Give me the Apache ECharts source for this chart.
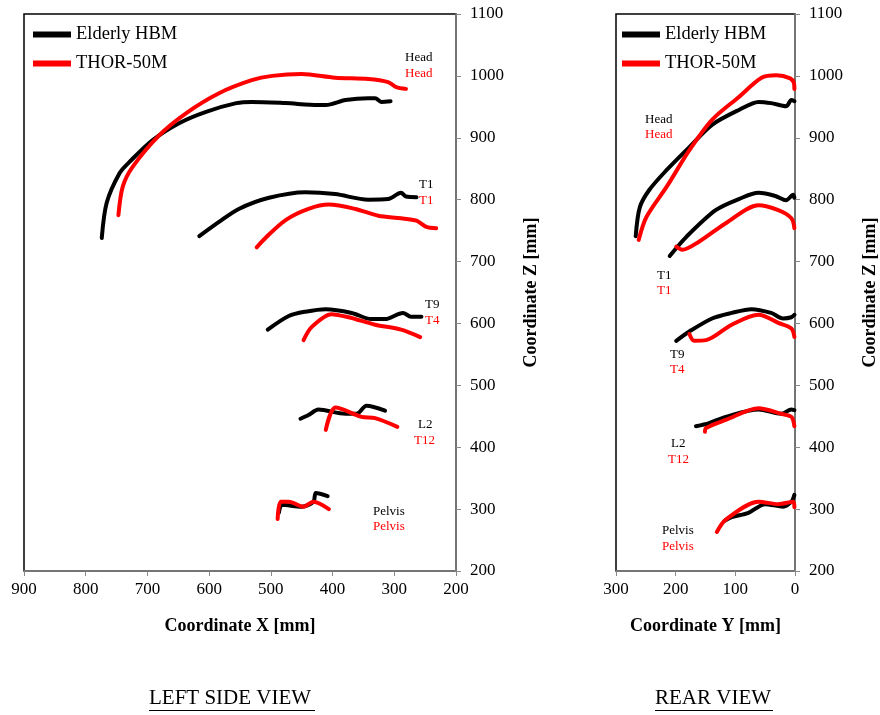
<!DOCTYPE html>
<html>
<head>
<meta charset="utf-8">
<script src="https://cdn.jsdelivr.net/npm/echarts@6/dist/echarts.min.js"></script>
<style>
  html, body { margin: 0; padding: 0; background: #fff; }
  #main { width: 880px; height: 715px; }
</style>
</head>
<body>
<div id="main"></div>
<script>
// side view: [X, Z] in mm
var sideHeadHbm = [[774,738],[766,795],[745,843],[729,861],[692,896],[648,924],[605,942],[556,956],[531,958],[476,956],[423,953],[411,953],[379,961],[342,964],[331,964],[321,958],[306,959]];
var sideHeadThor = [[747,775],[740,821],[724,853],[681,904],[637,940],[584,972],[531,993],[498,1000],[450,1003],[396,997],[342,995],[310,990],[297,982],[281,979]];
var sideT1Hbm = [[616,741],[584,764],[552,785],[503,803],[444,812],[396,809],[342,800],[310,801],[289,811],[281,805],[264,804]];
var sideT1Thor = [[523,723],[508,739],[476,767],[439,785],[406,792],[363,785],[326,774],[289,770],[264,766],[248,756],[232,754]];
var sideT9Hbm = [[505,590],[471,612],[444,619],[411,623],[369,617],[337,607],[315,607],[286,617],[273,611],[256,611]];
var sideT4Thor = [[447,573],[434,594],[402,615],[374,610],[331,598],[289,590],[258,578]];
var sideL2Hbm = [[452,446],[439,452],[423,461],[379,454],[361,454],[345,467],[315,459]];
var sideT12Thor = [[411,428],[395,464],[353,449],[331,447],[295,433]];
var sidePelvisHbm = [[487,294],[482,307],[450,304],[431,312],[427,326],[408,321]];
var sidePelvisThor = [[489,284],[484,312],[471,312],[447,304],[431,312],[406,300]];

// rear view: [Y, Z] in mm
var rearHeadHbm = [[267,741],[260,788],[244,816],[215,848],[177,885],[139,921],[94,945],[61,958],[40,956],[15,951],[6,961],[1,959]];
var rearHeadThor = [[262,735],[249,772],[215,821],[177,880],[139,929],[94,966],[56,997],[31,1001],[8,996],[2,989],[1,979]];
var rearT1Hbm = [[210,709],[182,740],[133,783],[94,801],[61,811],[33,806],[15,799],[3,808],[1,803]];
var rearT1Thor = [[199,724],[189,719],[161,732],[116,762],[61,791],[28,783],[6,770],[1,754]];
var rearT9Hbm = [[199,572],[177,587],[139,608],[106,617],[73,623],[40,617],[20,608],[6,610],[1,614]];
var rearT4Thor = [[177,583],[169,572],[149,573],[106,598],[61,614],[28,601],[6,592],[1,578]];
var rearL2Hbm = [[166,434],[144,439],[116,449],[61,461],[23,454],[6,461],[1,460]];
var rearT12Thor = [[151,425],[149,431],[116,444],[61,463],[23,454],[6,449],[1,434]];
var rearPelvisHbm = [[118,281],[106,287],[78,294],[50,308],[20,304],[6,312],[1,323]];
var rearPelvisThor = [[131,263],[116,283],[61,312],[28,308],[3,312],[1,303]];

var xTicksSide = [900, 800, 700, 600, 500, 400, 300, 200];
var xTicksRear = [300, 200, 100, 0];
var zTicks = [200, 300, 400, 500, 600, 700, 800, 900, 1000, 1100];

var names = ['Elderly HBM', 'THOR-50M'];
var colors = ['#000000', '#ff0000'];

var serif = 'Liberation Serif';
var myChart = echarts.init(document.getElementById('main'));

function seg(data, who, gi) {
  return {
    type: 'line',
    name: names[who],
    xAxisIndex: gi,
    yAxisIndex: gi,
    data: data,
    smooth: 0.3,
    showSymbol: false,
    color: colors[who],
    lineStyle: { width: 4, color: colors[who], cap: 'round', join: 'round' },
    animation: false
  };
}

function plain(v) { return String(v); }

function xAxisFor(gi, ticks, title) {
  return {
    type: 'value', gridIndex: gi, inverse: true,
    min: ticks[ticks.length - 1], max: ticks[0], interval: 100,
    name: title, nameLocation: 'middle', nameGap: 46,
    nameTextStyle: { fontFamily: serif, fontSize: 18, fontWeight: 'bold', color: '#000' },
    axisLine: { show: true, lineStyle: { color: '#888', width: 1.5 } },
    axisTick: { show: true, length: 5, lineStyle: { color: '#888' } },
    axisLabel: { fontFamily: serif, fontSize: 17, color: '#000', margin: 10, formatter: plain },
    splitLine: { show: false }
  };
}

function yAxisFor(gi) {
  return {
    type: 'value', gridIndex: gi, position: 'right',
    min: zTicks[0], max: zTicks[zTicks.length - 1], interval: 100,
    name: 'Coordinate Z [mm]', nameLocation: 'middle', nameGap: 66, nameRotate: 90,
    nameTextStyle: { fontFamily: serif, fontSize: 18, fontWeight: 'bold', color: '#000' },
    axisLine: { show: true, lineStyle: { color: '#888', width: 1.5 } },
    axisTick: { show: true, length: 5, lineStyle: { color: '#888' } },
    axisLabel: { fontFamily: serif, fontSize: 17, color: '#000', margin: 14, formatter: plain },
    splitLine: { show: false }
  };
}

function legendAt(left) {
  return {
    left: left, top: 20, orient: 'vertical', itemGap: 10,
    itemWidth: 38, itemHeight: 6, icon: 'rect',
    data: names,
    textStyle: { fontFamily: serif, fontSize: 18.5, color: '#000' }
  };
}

function tag(x, y, txt, col) {
  return { type: 'text', left: x, top: y, style: { text: txt, fill: col, font: '13px "Liberation Serif"' } };
}

var option = {
  backgroundColor: '#fff',
  animation: false,
  legend: [legendAt(28), legendAt(617)],
  grid: [
    { left: 24, top: 14, width: 432, height: 557, show: true, borderColor: '#000', borderWidth: 1.5, backgroundColor: '#fff' },
    { left: 616, top: 14, width: 181, height: 557, show: true, borderColor: '#000', borderWidth: 1.5, backgroundColor: '#fff' }
  ],
  xAxis: [xAxisFor(0, xTicksSide, 'Coordinate X [mm]'), xAxisFor(1, xTicksRear, 'Coordinate Y [mm]')],
  yAxis: [yAxisFor(0), yAxisFor(1)],
  series: [
    seg(sideHeadHbm, 0, 0), seg(sideHeadThor, 1, 0),
    seg(sideT1Hbm, 0, 0), seg(sideT1Thor, 1, 0),
    seg(sideT9Hbm, 0, 0), seg(sideT4Thor, 1, 0),
    seg(sideL2Hbm, 0, 0), seg(sideT12Thor, 1, 0),
    seg(sidePelvisHbm, 0, 0), seg(sidePelvisThor, 1, 0),
    seg(rearHeadHbm, 0, 1), seg(rearHeadThor, 1, 1),
    seg(rearT1Hbm, 0, 1), seg(rearT1Thor, 1, 1),
    seg(rearT9Hbm, 0, 1), seg(rearT4Thor, 1, 1),
    seg(rearL2Hbm, 0, 1), seg(rearT12Thor, 1, 1),
    seg(rearPelvisHbm, 0, 1), seg(rearPelvisThor, 1, 1)
  ],
  graphic: [
    tag(405, 51, 'Head', '#000'), tag(405, 67, 'Head', '#f00'),
    tag(419, 178, 'T1', '#000'), tag(419, 194, 'T1', '#f00'),
    tag(425, 298, 'T9', '#000'), tag(425, 314, 'T4', '#f00'),
    tag(418, 418, 'L2', '#000'), tag(414, 434, 'T12', '#f00'),
    tag(373, 505, 'Pelvis', '#000'), tag(373, 520, 'Pelvis', '#f00'),
    tag(645, 113, 'Head', '#000'), tag(645, 128, 'Head', '#f00'),
    tag(657, 269, 'T1', '#000'), tag(657, 284, 'T1', '#f00'),
    tag(670, 348, 'T9', '#000'), tag(670, 363, 'T4', '#f00'),
    tag(671, 437, 'L2', '#000'), tag(668, 453, 'T12', '#f00'),
    tag(662, 524, 'Pelvis', '#000'), tag(662, 540, 'Pelvis', '#f00'),
    { type: 'text', left: 149, top: 688, style: { text: 'LEFT SIDE VIEW', fill: '#000', font: '21px "Liberation Serif"' } },
    { type: 'rect', shape: { x: 149, y: 710, width: 166, height: 1 }, style: { fill: '#000' } },
    { type: 'text', left: 655, top: 688, style: { text: 'REAR VIEW', fill: '#000', font: '21px "Liberation Serif"' } },
    { type: 'rect', shape: { x: 655, y: 710, width: 118, height: 1 }, style: { fill: '#000' } }
  ]
};

myChart.setOption(option);
</script>
</body>
</html>
